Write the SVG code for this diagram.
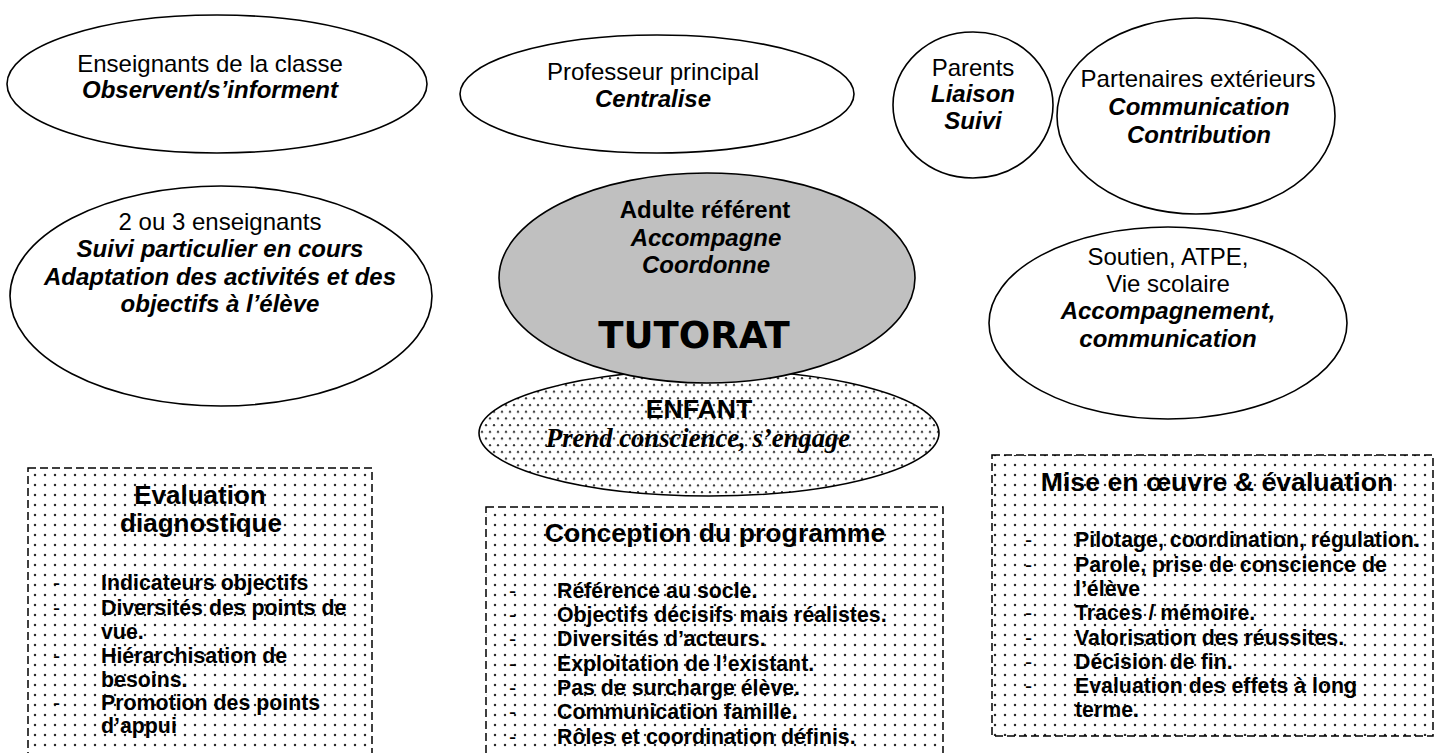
<svg xmlns="http://www.w3.org/2000/svg" width="1437" height="753" viewBox="0 0 1437 753">
<defs>
<pattern id="dotsBox" width="10" height="10" patternUnits="userSpaceOnUse">
<circle cx="5" cy="5" r="1.25" fill="#2a2a2a"/>
</pattern>
<pattern id="dotsChild" width="8" height="13.4" patternUnits="userSpaceOnUse">
<circle cx="2" cy="3" r="1.15" fill="#333"/>
<circle cx="6" cy="9.7" r="1.15" fill="#333"/>
</pattern>
</defs>
<style>
.node { fill: #ffffff; stroke: #000000; stroke-width: 1.6; }
.gray { fill: #c0c0c0; stroke: #000000; stroke-width: 1.6; }
.child { fill: url(#dotsChild); stroke: #000000; stroke-width: 1.6; }
.box { fill: url(#dotsBox); stroke: #000000; stroke-width: 1.5; stroke-dasharray: 8 4; }
text { font-family: "Liberation Sans", Arial, sans-serif; fill: #000000; }
.t { font-size: 24px; text-anchor: middle; }
.bi { font-weight: bold; font-style: italic; }
.b { font-weight: bold; }
.big { font-family: "DejaVu Sans", Verdana, sans-serif; font-weight: bold; font-size: 37px; text-anchor: middle; }
.title { font-size: 26.67px; font-weight: bold; text-anchor: middle; }
.title2 { font-size: 26px; font-weight: bold; text-anchor: middle; }
.serif { font-family: "Liberation Serif", "Times New Roman", serif; font-size: 26.67px; font-weight: bold; font-style: italic; text-anchor: middle; }
.item { font-size: 21.33px; font-weight: bold; }
.dash { font-size: 21.33px; }
</style>
<rect width="1437" height="753" fill="#ffffff"/>

<g id="enseignants-classe">
<ellipse class="node" cx="217" cy="84" rx="210" ry="69"/>
<text class="t" x="210" y="72">Enseignants de la classe</text>
<text class="t bi" x="210" y="98">Observent/s’informent</text>
</g>

<g id="professeur-principal">
<ellipse class="node" cx="657" cy="94" rx="197" ry="59"/>
<text class="t" x="653" y="80">Professeur principal</text>
<text class="t bi" x="653" y="107">Centralise</text>
</g>

<g id="parents">
<ellipse class="node" cx="973" cy="105" rx="80" ry="73"/>
<text class="t" x="973" y="76">Parents</text>
<text class="t bi" x="973" y="102">Liaison</text>
<text class="t bi" x="973" y="129">Suivi</text>
</g>

<g id="partenaires">
<ellipse class="node" cx="1196" cy="116" rx="139" ry="98"/>
<text class="t" x="1198" y="87">Partenaires extérieurs</text>
<text class="t bi" x="1199" y="115">Communication</text>
<text class="t bi" x="1199" y="143">Contribution</text>
</g>

<g id="deux-trois-enseignants">
<ellipse class="node" cx="221" cy="296" rx="211" ry="110"/>
<text class="t" x="220" y="230">2 ou 3 enseignants</text>
<text class="t bi" x="220" y="257">Suivi particulier en cours</text>
<text class="t bi" x="220" y="285">Adaptation des activités et des</text>
<text class="t bi" x="220" y="312">objectifs à l’élève</text>
</g>

<g id="soutien">
<ellipse class="node" cx="1168" cy="323" rx="179" ry="96"/>
<text class="t" x="1168" y="265">Soutien, ATPE,</text>
<text class="t" x="1168" y="292">Vie scolaire</text>
<text class="t bi" x="1168" y="319">Accompagnement,</text>
<text class="t bi" x="1168" y="347">communication</text>
</g>

<g id="enfant">
<ellipse class="child" cx="709" cy="433" rx="230" ry="63"/>
<text class="title" x="699" y="418">ENFANT</text>
<text class="serif" x="698" y="447">Prend conscience, s’engage</text>
</g>

<g id="tutorat">
<ellipse class="gray" cx="707" cy="278" rx="208" ry="105"/>
<text class="t b" x="705" y="218">Adulte référent</text>
<text class="t bi" x="706" y="246">Accompagne</text>
<text class="t bi" x="706" y="273">Coordonne</text>
<text class="big" x="694" y="348">TUTORAT</text>
</g>

<g id="evaluation-diagnostique">
<rect class="box" x="28" y="468" width="344" height="300"/>
<text class="title2" x="200" y="504">Evaluation</text>
<text class="title2" x="201" y="532">diagnostique</text>
<text class="dash" x="53" y="590">-</text>
<text class="item" x="101" y="590">Indicateurs objectifs</text>
<text class="dash" x="53" y="615">-</text>
<text class="item" x="101" y="615">Diversités des points de</text>
<text class="item" x="101" y="639">vue.</text>
<text class="dash" x="53" y="663">-</text>
<text class="item" x="101" y="663">Hiérarchisation de</text>
<text class="item" x="101" y="687">besoins.</text>
<text class="dash" x="53" y="710">-</text>
<text class="item" x="101" y="710">Promotion des points</text>
<text class="item" x="101" y="733">d’appui</text>
</g>

<g id="conception-programme">
<rect class="box" x="486" y="507" width="457" height="260"/>
<text class="title" x="715" y="542">Conception du programme</text>
<text class="dash" x="509" y="598">-</text>
<text class="item" x="557" y="598">Référence au socle.</text>
<text class="dash" x="509" y="622">-</text>
<text class="item" x="557" y="622">Objectifs décisifs mais réalistes.</text>
<text class="dash" x="509" y="646">-</text>
<text class="item" x="557" y="646">Diversités d’acteurs.</text>
<text class="dash" x="509" y="671">-</text>
<text class="item" x="557" y="671">Exploitation de l’existant.</text>
<text class="dash" x="509" y="695">-</text>
<text class="item" x="557" y="695">Pas de surcharge élève.</text>
<text class="dash" x="509" y="719">-</text>
<text class="item" x="557" y="719">Communication famille.</text>
<text class="dash" x="509" y="744">-</text>
<text class="item" x="557" y="744">Rôles et coordination définis.</text>
</g>

<g id="mise-en-oeuvre">
<rect class="box" x="992" y="455" width="441" height="281"/>
<text class="title" x="1217" y="491">Mise en œuvre &amp; évaluation</text>
<text class="dash" x="1025" y="547">-</text>
<text class="item" x="1075" y="547">Pilotage, coordination, régulation.</text>
<text class="dash" x="1025" y="572">-</text>
<text class="item" x="1075" y="572">Parole, prise de conscience de</text>
<text class="item" x="1075" y="596">l’élève</text>
<text class="dash" x="1025" y="620">-</text>
<text class="item" x="1075" y="620">Traces / mémoire.</text>
<text class="dash" x="1025" y="645">-</text>
<text class="item" x="1075" y="645">Valorisation des réussites.</text>
<text class="dash" x="1025" y="669">-</text>
<text class="item" x="1075" y="669">Décision de fin.</text>
<text class="dash" x="1025" y="693">-</text>
<text class="item" x="1075" y="693">Evaluation des effets à long</text>
<text class="item" x="1075" y="717">terme.</text>
</g>

<g id="connectors"/>
</svg>
